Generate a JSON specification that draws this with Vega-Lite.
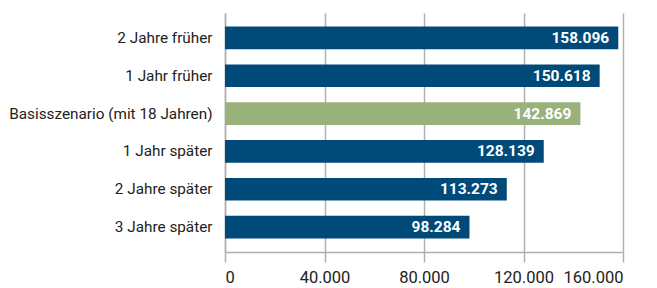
{
  "$schema": "https://vega.github.io/schema/vega-lite/v6.json",
  "autosize": {"type": "none"},
  "width": 398,
  "height": 239,
  "padding": {"left": 225, "top": 13, "right": 34, "bottom": 36},
  "background": "white",
  "config": {
    "locale": {"number": {"decimal": ",", "thousands": ".", "grouping": [3], "currency": ["", " €"]}},
    "view": {"stroke": null},
    "font": "Roboto"
  },
  "data": {
    "values": [
      {"szenario": "2 Jahre früher", "wert": 158096, "typ": "a"},
      {"szenario": "1 Jahr früher", "wert": 150618, "typ": "a"},
      {"szenario": "Basisszenario (mit 18 Jahren)", "wert": 142869, "typ": "b"},
      {"szenario": "1 Jahr später", "wert": 128139, "typ": "a"},
      {"szenario": "2 Jahre später", "wert": 113273, "typ": "a"},
      {"szenario": "3 Jahre später", "wert": 98284, "typ": "a"}
    ]
  },
  "encoding": {
    "y": {
      "field": "szenario", "type": "nominal", "sort": null,
      "scale": {"paddingInner": 0.4, "paddingOuter": 0.36},
      "axis": {"title": null, "ticks": false, "labelPadding": 13, "labelFontSize": 15.3, "labelLimit": 400, "labelColor": "#222222", "domainColor": "#b0b0b0", "domainWidth": 1.5}
    },
    "x": {
      "field": "wert", "type": "quantitative",
      "scale": {"domain": [0, 160000], "nice": false},
      "axis": {"title": null, "values": [0, 40000, 80000, 120000, 160000], "format": ",d", "tickSize": 10, "tickColor": "#b0b0b0", "tickWidth": 1.5, "domainColor": "#b0b0b0", "domainWidth": 1.5, "gridColor": "#b0b0b0", "gridWidth": 1.5, "labelFontSize": 16.5, "labelColor": "#222222", "labelPadding": 7}
    }
  },
  "layer": [
    {
      "mark": {"type": "bar"},
      "encoding": {
        "color": {"field": "typ", "type": "nominal", "scale": {"domain": ["a", "b"], "range": ["#004a7a", "#99b27b"]}, "legend": null}
      }
    },
    {
      "mark": {"type": "text", "align": "right", "dx": -9, "fontWeight": "bold", "fontSize": 15.5, "color": "white"},
      "encoding": {
        "text": {"field": "wert", "type": "quantitative", "format": ",d"}
      }
    }
  ]
}
